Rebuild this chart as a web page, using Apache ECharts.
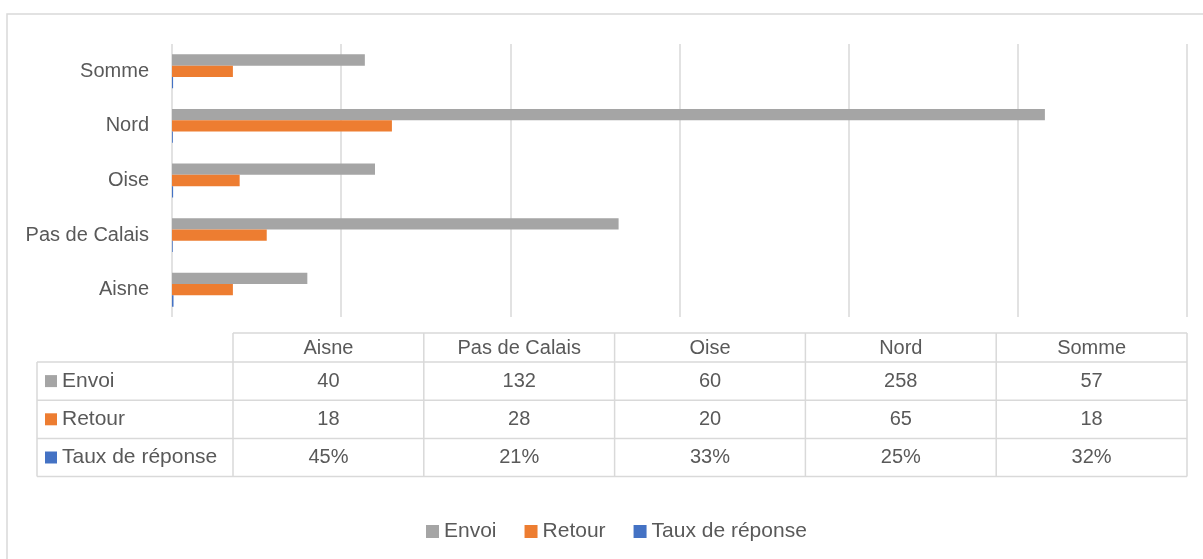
<!DOCTYPE html>
<html>
<head>
<meta charset="utf-8">
<script src="https://cdn.jsdelivr.net/npm/echarts@6.0.0/dist/echarts.min.js"></script>
<style>
  html, body { margin: 0; padding: 0; background: #fff; }
  #main { width: 1203px; height: 559px; }
</style>
</head>
<body>
<div id="main"></div>
<script>
// data
const categories = ['Aisne', 'Pas de Calais', 'Oise', 'Nord', 'Somme'];
const envoi = [40, 132, 60, 258, 57];
const retour = [18, 28, 20, 65, 18];
const tauxReponse = [0.45, 0.21, 0.33, 0.25, 0.32];
const seriesNames = ['Envoi', 'Retour', 'Taux de réponse'];
const seriesColors = ['#A5A5A5', '#ED7D31', '#4472C4'];

const textColor = '#595959';
const lineColor = '#D9D9D9';
const fontFamily = '"Liberation Sans", Arial, sans-serif';

function pct(v) {
  return Math.round(v * 100) + '%';
}

// data table under the plot (Excel style)
function buildTable() {
  var els = [];
  var left = 37, colStart = 233, colW = 190.8;
  var top = 333, headH = 29, rowH = 38.2;
  var right = colStart + colW * categories.length;
  var rows = [
    envoi.map(String),
    retour.map(String),
    tauxReponse.map(pct)
  ];
  var bottom = top + headH + rowH * rows.length;

  function hline(x1, x2, y) {
    els.push({ type: 'line', silent: true,
      shape: { x1: x1, y1: y, x2: x2, y2: y },
      style: { stroke: lineColor, lineWidth: 1.5 } });
  }
  function vline(x, y1, y2) {
    els.push({ type: 'line', silent: true,
      shape: { x1: x, y1: y1, x2: x, y2: y2 },
      style: { stroke: lineColor, lineWidth: 1.5 } });
  }
  function txt(s, x, y, align, size) {
    els.push({ type: 'text', silent: true,
      style: { text: s, x: x, y: y, fill: textColor, align: align,
        verticalAlign: 'middle', fontSize: size || 20, fontFamily: fontFamily } });
  }

  hline(colStart, right, top);
  for (let r = 0; r <= rows.length; r++) {
    hline(left, right, top + headH + rowH * r);
  }
  vline(left, top + headH, bottom);
  for (let c = 0; c <= categories.length; c++) {
    vline(colStart + colW * c, top, bottom);
  }

  categories.forEach(function (cat, c) {
    txt(cat, colStart + colW * (c + 0.5), top + headH / 2 + 1, 'center');
  });

  rows.forEach(function (row, r) {
    var cy = top + headH + rowH * (r + 0.5);
    els.push({ type: 'rect', silent: true,
      shape: { x: 45, y: cy - 6, width: 12, height: 12 },
      style: { fill: seriesColors[r] } });
    txt(seriesNames[r], 62, cy, 'left', 21);
    row.forEach(function (s, c) {
      txt(s, colStart + colW * (c + 0.5), cy, 'center');
    });
  });

  return els;
}

var chart = echarts.init(document.getElementById('main'), null, { renderer: 'canvas' });

var option = {
  backgroundColor: '#fff',
  animation: false,
  textStyle: { fontFamily: fontFamily, color: textColor },
  grid: { left: 172, right: 16, top: 44, bottom: 242 },
  xAxis: {
    type: 'value',
    min: 0,
    max: 300,
    interval: 50,
    axisLabel: { show: false },
    axisLine: { show: false },
    axisTick: { show: false },
    splitLine: { show: true, lineStyle: { color: lineColor, width: 1.5 } }
  },
  yAxis: {
    type: 'category',
    data: categories,
    axisLine: { show: false },
    axisTick: { show: false },
    axisLabel: { color: textColor, fontSize: 20, fontFamily: fontFamily, margin: 23 }
  },
  legend: {
    data: seriesNames,
    left: 421,
    top: 516,
    itemWidth: 13,
    itemHeight: 13,
    itemGap: 28,
    icon: 'rect',
    textStyle: { color: textColor, fontSize: 21, fontFamily: fontFamily }
  },
  series: [
    { name: seriesNames[0], type: 'bar', data: envoi, color: seriesColors[0],
      barGap: '0%', barCategoryGap: '38%' },
    { name: seriesNames[1], type: 'bar', data: retour, color: seriesColors[1],
      barGap: '0%', barCategoryGap: '38%' },
    { name: seriesNames[2], type: 'bar', data: tauxReponse, color: seriesColors[2],
      barGap: '0%', barCategoryGap: '38%' }
  ],
  graphic: [
    { type: 'rect', silent: true, z: -1,
      shape: { x: 7, y: 14, width: 1400, height: 800 },
      style: { fill: 'none', stroke: lineColor, lineWidth: 1.5 } }
  ].concat(buildTable())
};

chart.setOption(option);
</script>
</body>
</html>
